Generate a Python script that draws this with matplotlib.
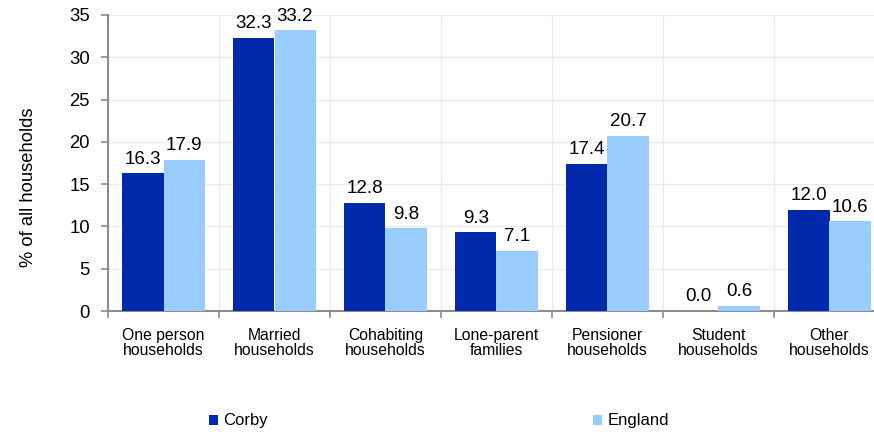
import matplotlib
matplotlib.use("Agg")
import matplotlib.pyplot as plt
import numpy as np

categories = ["One person\nhouseholds", "Married\nhouseholds", "Cohabiting\nhouseholds",
              "Lone-parent\nfamilies", "Pensioner\nhouseholds", "Student\nhouseholds",
              "Other\nhouseholds"]
corby = [16.3, 32.3, 12.8, 9.3, 17.4, 0.0, 12.0]
england = [17.9, 33.2, 9.8, 7.1, 20.7, 0.6, 10.6]
series_names = ["Corby", "England"]
yticks = [0, 5, 10, 15, 20, 25, 30, 35]

plt.rcParams['font.family'] = ['Liberation Sans', 'DejaVu Sans']

fig = plt.figure(figsize=(8.74, 4.32), dpi=100)
ax = fig.add_axes([108/874, 121/432, 777/874, 296/432])

c1 = '#0029AC'
c2 = '#99CCFF'
x = np.arange(len(categories))
w = 0.37
b1 = ax.bar(x - w/2, corby, width=w, color=c1, label=series_names[0], zorder=3)
b2 = ax.bar(x + w/2, england, width=w, color=c2, label=series_names[1], zorder=3)
ax.bar_label(b1, fmt='%.1f', padding=4, fontsize=13.5)
ax.bar_label(b2, fmt='%.1f', padding=4, fontsize=13.5)

ax.set_xlim(-0.5, len(categories) - 0.5)
ax.set_ylim(0, 35)
ax.set_yticks(yticks)
ax.tick_params(axis='y', labelsize=13.3, length=5, color='#8c8c8c', width=1.2, pad=8)
ax.set_xticks(x)
ax.set_xticklabels(categories, fontsize=11.3, linespacing=1.05)
ax.tick_params(axis='x', which='major', length=0, pad=12)
ax.set_xticks(np.arange(len(categories) + 1) - 0.5, minor=True)
ax.tick_params(axis='x', which='minor', length=5, color='#8c8c8c', width=1.2)
ax.grid(axis='y', which='major', color='#ebebeb', lw=1, zorder=0)
ax.grid(axis='x', which='minor', color='#ebebeb', lw=1, zorder=0)
for s in ['top', 'right']:
    ax.spines[s].set_visible(False)
for s in ['left', 'bottom']:
    ax.spines[s].set_color('#8c8c8c')
    ax.spines[s].set_linewidth(1.5)
ax.set_ylabel('% of all households', fontsize=13.2, va='center')
ax.yaxis.set_label_coords(-80/777, (311 - 187)/296)

fig.legend(handles=[b1], labels=[series_names[0]], loc='center left',
           bbox_to_anchor=(194/874, 1 - 421/432), frameon=False, fontsize=12,
           handlelength=0.55, handleheight=0.55, handletextpad=0.3)
fig.legend(handles=[b2], labels=[series_names[1]], loc='center left',
           bbox_to_anchor=(578/874, 1 - 421/432), frameon=False, fontsize=12,
           handlelength=0.55, handleheight=0.55, handletextpad=0.3)

fig.savefig('out.png', dpi=100)
